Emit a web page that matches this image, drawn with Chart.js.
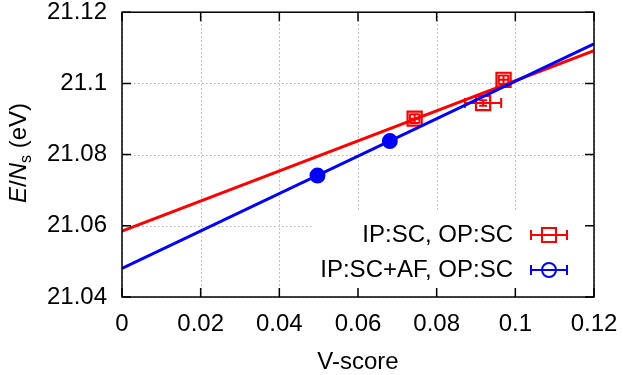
<!DOCTYPE html>
<html>
<head>
<meta charset="utf-8">
<script src="https://cdn.jsdelivr.net/npm/chart.js@4.4.1/dist/chart.umd.min.js"></script>
<style>
  html, body { margin: 0; padding: 0; background: #fff; }
  #wrap { width: 623px; height: 375px; }
</style>
</head>
<body>
<div id="wrap"><canvas id="chart" width="623" height="375"></canvas></div>
<script>
// Axis ticks
const xTicks = [0, 0.02, 0.04, 0.06, 0.08, 0.1, 0.12];
const xTickLabels = ['0', '0.02', '0.04', '0.06', '0.08', '0.1', '0.12'];
const yTicks = [21.04, 21.06, 21.08, 21.1, 21.12];
const yTickLabels = ['21.04', '21.06', '21.08', '21.1', '21.12'];

// IP:SC, OP:SC points (with x / y error)
const scX = [0.0744, 0.0918, 0.0970];
const scY = [21.0901, 21.0945, 21.1010];
const scXErr = [0.0012, 0.0046, 0.0012];
const scYErr = [0.0012, 0.0008, 0.0012];

// IP:SC+AF, OP:SC points
const afX = [0.0497, 0.0681];
const afY = [21.0741, 21.0838];
const afXErr = [0.0010, 0.0010];
const afYErr = [0.0010, 0.0010];

// Fit lines, end points
const fitX = [0, 0.12];
const fitSC = [21.0585, 21.1092];
const fitAF = [21.0480, 21.1111];

const seriesLabels = ['IP:SC, OP:SC', 'IP:SC+AF, OP:SC'];

const RED = 'rgb(255, 0, 0)';
const BLUE = 'rgb(0, 0, 255)';
const FONT = '"Liberation Sans", Arial, Helvetica, sans-serif';
const FS = 24;

function pts(xs, ys) {
    return xs.map((x, i) => ({ x: x, y: ys[i] }));
}

function errorBars(ctx, xs, ys, xe, ye, color, xScale, yScale) {
    ctx.save();
    ctx.strokeStyle = color;
    ctx.lineWidth = 2;
    xs.forEach((x, i) => {
        const px = xScale.getPixelForValue(x);
        const py = yScale.getPixelForValue(ys[i]);
        const x1 = xScale.getPixelForValue(x - xe[i]);
        const x2 = xScale.getPixelForValue(x + xe[i]);
        const y1 = yScale.getPixelForValue(ys[i] - ye[i]);
        const y2 = yScale.getPixelForValue(ys[i] + ye[i]);
        ctx.beginPath();
        ctx.moveTo(x1, py); ctx.lineTo(x2, py);
        ctx.moveTo(x1, py - 5); ctx.lineTo(x1, py + 5);
        ctx.moveTo(x2, py - 5); ctx.lineTo(x2, py + 5);
        ctx.moveTo(px, y1); ctx.lineTo(px, y2);
        ctx.moveTo(px - 4, y1); ctx.lineTo(px + 4, y1);
        ctx.moveTo(px - 4, y2); ctx.lineTo(px + 4, y2);
        ctx.stroke();
    });
    ctx.restore();
}

// Grid, legend box, error bars, frame, inward ticks, titles and legend
const framePlugin = {
    id: 'frame',
    beforeDatasetsDraw(chart) {
        const ctx = chart.ctx;
        const a = chart.chartArea;
        const xs = chart.scales.x, ys = chart.scales.y;

        // dotted grid
        ctx.save();
        ctx.strokeStyle = '#b0b0b0';
        ctx.lineWidth = 1;
        ctx.setLineDash([1.5, 2.5]);
        xTicks.forEach(v => {
            const p = Math.round(xs.getPixelForValue(v)) + 0.5;
            ctx.beginPath(); ctx.moveTo(p, a.top); ctx.lineTo(p, a.bottom); ctx.stroke();
        });
        yTicks.forEach(v => {
            const p = Math.round(ys.getPixelForValue(v)) + 0.5;
            ctx.beginPath(); ctx.moveTo(a.left, p); ctx.lineTo(a.right, p); ctx.stroke();
        });
        ctx.restore();

        // legend background hides the grid
        ctx.fillStyle = '#fff';
        ctx.fillRect(313, 212, a.right - 313, a.bottom - 212);

        errorBars(ctx, scX, scY, scXErr, scYErr, RED, xs, ys);
        errorBars(ctx, afX, afY, afXErr, afYErr, BLUE, xs, ys);
    },
    afterDatasetsDraw(chart) {
        const ctx = chart.ctx;
        const a = chart.chartArea;
        const xs = chart.scales.x, ys = chart.scales.y;

        // inward ticks on all sides
        ctx.save();
        ctx.strokeStyle = '#000';
        ctx.lineWidth = 1.5;
        ctx.beginPath();
        xTicks.forEach(v => {
            const p = xs.getPixelForValue(v);
            ctx.moveTo(p, a.bottom); ctx.lineTo(p, a.bottom - 9);
            ctx.moveTo(p, a.top); ctx.lineTo(p, a.top + 9);
        });
        yTicks.forEach(v => {
            const p = ys.getPixelForValue(v);
            ctx.moveTo(a.left, p); ctx.lineTo(a.left + 9, p);
            ctx.moveTo(a.right, p); ctx.lineTo(a.right - 9, p);
        });
        ctx.stroke();
        ctx.strokeRect(a.left, a.top, a.right - a.left, a.bottom - a.top);
        ctx.restore();

        // legend
        ctx.save();
        ctx.font = FS + 'px ' + FONT;
        ctx.fillStyle = '#000';
        ctx.textAlign = 'right';
        ctx.textBaseline = 'middle';
        const rows = [235, 270];
        const colors = [RED, BLUE];
        rows.forEach((ry, i) => {
            ctx.fillText(seriesLabels[i], 513, ry);
            ctx.strokeStyle = colors[i];
            ctx.lineWidth = 2;
            ctx.beginPath();
            ctx.moveTo(530, ry); ctx.lineTo(568, ry);
            ctx.moveTo(531, ry - 5); ctx.lineTo(531, ry + 5);
            ctx.moveTo(567, ry - 5); ctx.lineTo(567, ry + 5);
            ctx.stroke();
            ctx.beginPath();
            if (i === 0) {
                ctx.rect(542, ry - 7, 14, 14);
            } else {
                ctx.arc(549, ry, 7, 0, Math.PI * 2);
            }
            ctx.stroke();
        });
        ctx.restore();

        // x title
        ctx.save();
        ctx.font = FS + 'px ' + FONT;
        ctx.fillStyle = '#000';
        ctx.textAlign = 'center';
        ctx.textBaseline = 'alphabetic';
        ctx.fillText('V-score', (a.left + a.right) / 2, 369);
        ctx.restore();

        // y title: E/N_s (eV)
        ctx.save();
        ctx.translate(26, 153);
        ctx.rotate(-Math.PI / 2);
        ctx.fillStyle = '#000';
        ctx.textBaseline = 'alphabetic';
        const parts = [
            { t: 'E', f: 'italic ' + FS + 'px ' + FONT, dy: 0 },
            { t: '/', f: FS + 'px ' + FONT, dy: 0 },
            { t: 'N', f: 'italic ' + FS + 'px ' + FONT, dy: 0 },
            { t: 's', f: '16px ' + FONT, dy: 5 },
            { t: ' (eV)', f: FS + 'px ' + FONT, dy: 0 }
        ];
        let total = 0;
        parts.forEach(p => { ctx.font = p.f; p.w = ctx.measureText(p.t).width; total += p.w; });
        let cx = -total / 2;
        parts.forEach(p => {
            ctx.font = p.f;
            ctx.fillText(p.t, cx, p.dy);
            cx += p.w;
        });
        ctx.restore();
    }
};

const ctx = document.getElementById('chart');

new Chart(ctx, {
    type: 'scatter',
    data: {
        datasets: [
            {
                label: seriesLabels[0],
                data: pts(scX, scY),
                pointStyle: 'rect',
                pointRadius: 10,
                borderColor: RED,
                backgroundColor: 'rgba(0, 0, 0, 0)',
                borderWidth: 2.2,
                order: 3
            },
            {
                label: seriesLabels[1],
                data: pts(afX, afY),
                pointStyle: 'circle',
                pointRadius: 7,
                borderColor: BLUE,
                backgroundColor: BLUE,
                borderWidth: 2,
                order: 2
            },
            {
                type: 'line',
                data: pts(fitX, fitSC),
                borderColor: RED,
                borderWidth: 3,
                pointRadius: 0,
                fill: false,
                order: 1
            },
            {
                type: 'line',
                data: pts(fitX, fitAF),
                borderColor: BLUE,
                borderWidth: 3,
                pointRadius: 0,
                fill: false,
                order: 0
            }
        ]
    },
    options: {
        responsive: false,
        animation: false,
        layout: { padding: { top: 10, right: 29, left: 0, bottom: 0 } },
        plugins: {
            legend: { display: false },
            tooltip: { enabled: false }
        },
        scales: {
            x: {
                type: 'linear',
                min: 0,
                max: 0.12,
                afterBuildTicks: s => { s.ticks = xTicks.map(v => ({ value: v })); },
                afterFit: s => {
                    s.height = 78;
                    s.paddingLeft = 0;
                    s.paddingRight = 0;
                },
                grid: { display: false, drawTicks: false },
                border: { display: false },
                ticks: {
                    callback: (v, i) => xTickLabels[i],
                    font: { family: FONT, size: FS },
                    color: '#000',
                    padding: 13,
                    maxRotation: 0,
                    autoSkip: false
                }
            },
            y: {
                type: 'linear',
                min: 21.04,
                max: 21.12,
                afterBuildTicks: s => { s.ticks = yTicks.map(v => ({ value: v })); },
                afterFit: s => {
                    s.width = 122;
                    s.paddingTop = 0;
                    s.paddingBottom = 0;
                },
                grid: { display: false, drawTicks: false },
                border: { display: false },
                ticks: {
                    callback: (v, i) => yTickLabels[i],
                    font: { family: FONT, size: FS },
                    color: '#000',
                    padding: 15,
                    autoSkip: false
                }
            }
        }
    },
    plugins: [framePlugin]
});
</script>
</body>
</html>
